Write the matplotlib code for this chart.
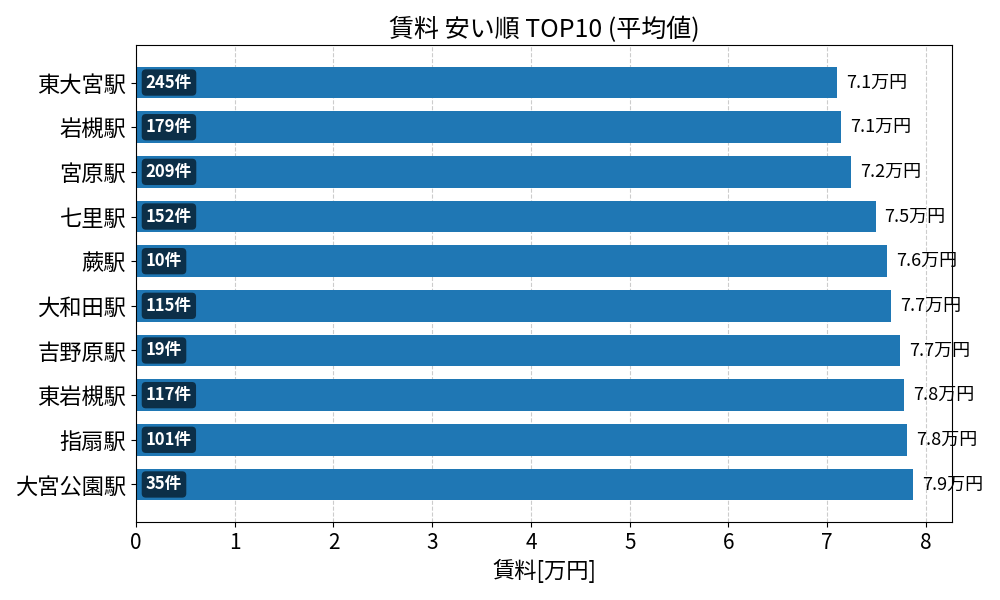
import matplotlib
matplotlib.use("Agg")
import matplotlib.pyplot as plt
import numpy as np

plt.rcParams["font.family"] = ["Noto Sans CJK JP", "DejaVu Sans"]

# 駅ごとの平均賃料 (万円) と物件数
stations = ["東大宮駅", "岩槻駅", "宮原駅", "七里駅", "蕨駅",
            "大和田駅", "吉野原駅", "東岩槻駅", "指扇駅", "大宮公園駅"]
rent = [7.10, 7.14, 7.24, 7.49, 7.61, 7.65, 7.74, 7.78, 7.81, 7.87]
counts = [245, 179, 209, 152, 10, 115, 19, 117, 101, 35]

fig, ax = plt.subplots(figsize=(10, 6), dpi=100)
fig.subplots_adjust(left=0.136, right=0.952, top=0.925, bottom=0.13)

y = np.arange(len(stations))
ax.barh(y, rent, height=0.71, color="#1f77b4", zorder=2)
ax.set_yticks(y)
ax.set_yticklabels(stations, fontsize=16)
ax.invert_yaxis()
ax.tick_params(axis="x", labelsize=15)

for i, v in enumerate(rent):
    ax.text(v + 0.09, y[i], f"{v:.1f}万円", fontsize=13, color="black",
            ha="left", va="center")
    ax.text(0.1, y[i], f"{counts[i]}件", fontsize=12, color="white",
            fontweight="bold", ha="left", va="center", zorder=3,
            bbox=dict(boxstyle="round,pad=0.25", facecolor="black",
                      edgecolor="none", alpha=0.6))

ax.grid(axis="x", linestyle="--", color="gray", alpha=0.4, zorder=0)
ax.set_axisbelow(True)
ax.set_xlabel("賃料[万円]", fontsize=16)
ax.set_title("賃料 安い順 TOP10 (平均値)", fontsize=18)

plt.savefig("out.png")
